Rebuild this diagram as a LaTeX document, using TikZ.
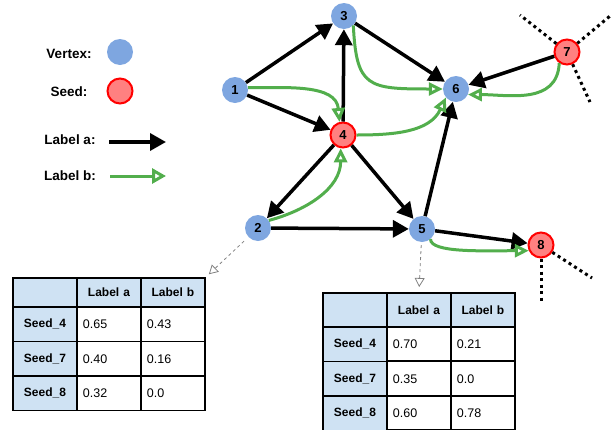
\documentclass[tikz,border=0pt]{standalone}
\usepackage{fontspec}
\setmainfont{Liberation Sans}
\usepackage{tikz}
\usetikzlibrary{positioning}
\usetikzlibrary{arrows.meta}
\usetikzlibrary{matrix}

\definecolor{vblue}{RGB}{126,166,224}
\definecolor{sred}{RGB}{255,128,128}
\definecolor{lgreen}{RGB}{82,174,76}
\definecolor{tblue}{RGB}{207,226,243}

\begin{document}
\begin{tikzpicture}[x = 1pt, y = 1pt]

  \tikzstyle{vertex}=[circle, minimum size = 26pt, inner sep = 0pt, fill = vblue, font = \fontsize{13}{13}\selectfont\bfseries]
  \tikzstyle{seed}=[vertex, minimum size = 25pt, fill = sred, draw = red, line width = 2pt]
  \tikzstyle{labela}=[-{Triangle[length = 16pt, width = 17pt]}, line width = 3.5pt, draw = black]
  \tikzstyle{labelb}=[-{Triangle[open, length = 14pt, width = 13pt]}, line width = 3pt, draw = lgreen]
  \tikzstyle{dangling}=[line width = 3pt, dash pattern = on 3pt off 3.5pt]
  \tikzstyle{lookup}=[-{Triangle[open, length = 9pt, width = 10pt]}, dashed, draw = gray, line width = 0.8pt]
  \tikzstyle{legtext}=[font = \fontsize{13.5}{13.5}\selectfont\bfseries]
  \tikzstyle{tcell}=[draw, anchor = center, line width = 1.5pt, inner xsep = 6pt, text width = 52pt, minimum height = 34.5pt, font = \fontsize{12.5}{12.5}\selectfont]
  \tikzstyle{thcell}=[tcell, fill = tblue, align = center, font = \fontsize{12}{12}\selectfont\bfseries]

  \useasboundingbox (0,0) rectangle (611,-429);

  % legend
  \node[legtext] (tvertex) at (69,-54) {Vertex:};
  \node[vertex] (lvertex) at (120,-52) {};
  \node[legtext] (tseed) at (69,-92) {Seed:};
  \node[seed] (lseed) at (120,-91) {};
  \node[legtext] (tlabela) at (70,-140) {Label a:};
  \node[legtext] (tlabelb) at (70,-176) {Label b:};
  \coordinate (la0) at (109,-142);
  \coordinate (la1) at (166,-142);
  \coordinate (lb0) at (110,-176);
  \coordinate (lb1) at (166,-176);
  \draw[labela] (la0) -- (la1);
  \draw[labelb, -{Triangle[open, length = 14pt, width = 15pt]}] (lb0) -- (lb1);

  % graph
  \node[vertex] (n1) at (235,-90) {1};
  \node[vertex] (n3) at (344,-16) {3};
  \node[seed] (n4) at (343,-135) {4};
  \node[vertex] (n6) at (456,-89) {6};
  \node[seed] (n7) at (567,-52) {7};
  \node[vertex] (n2) at (258,-228) {2};
  \node[vertex] (n5) at (422,-229) {5};
  \node[seed] (n8) at (541,-245) {8};

  \coordinate (d7a) at (520,-15);
  \coordinate (d7b) at (610,-16);
  \coordinate (d7c) at (590,-102);
  \coordinate (d8a) at (592,-278);
  \coordinate (d8b) at (541,-302);

  \path (n1) edge [labela] (n3)
        (n1) edge [labela] (n4)
        (n4) edge [labela] (n3)
        (n3) edge [labela] (n6)
        (n4) edge [labela] (n2)
        (n4) edge [labela] (n5)
        (n2) edge [labela] (n5)
        (n5) edge [labela] (n6)
        (n7) edge [labela] (n6)
        (n5) edge [labela] (n8);

  \path (n1.10) edge [labelb, out = 0, in = 95] (n4.105)
        (n4.east) edge [labelb, out = 0, in = 245] (n6.220)
        (n2.35) edge [labelb, out = 15, in = -90] (n4.-100);
  \draw[labelb] (n3.-45) .. controls +(3,-62) and +(-75,0) .. (n6.180);
  \draw[labelb] (n7.235) .. controls +(-2,-42) and +(40,0) .. (n6.-25);
  \draw[labelb] (n5.-50) .. controls +(0,-14) and +(-45,0) .. (n8.205);

  \path (n7) edge [dangling] (d7a)
        (n7) edge [dangling] (d7b)
        (n7) edge [dangling] (d7c)
        (n8) edge [dangling] (d8a)
        (n8) edge [dangling] (d8b);

  % tables
  \matrix (taba) [matrix of nodes, nodes in empty cells, anchor = north west, inner sep = 0pt,
    column sep = -1.5pt, row sep = -1.5pt, nodes = {tcell},
    row 1/.style = {nodes = {thcell, minimum height = 29pt}},
    column 1/.style = {nodes = {thcell}}] at (12,-277) {
            & Label a & Label b \\
    Seed\_4 & 0.65    & 0.43    \\
    Seed\_7 & 0.40    & 0.16    \\
    Seed\_8 & 0.32    & 0.0     \\
  };

  \matrix (tabb) [matrix of nodes, nodes in empty cells, anchor = north west, inner sep = 0pt,
    column sep = -1.5pt, row sep = -1.5pt, nodes = {tcell, minimum height = 34pt},
    row 1/.style = {nodes = {thcell, minimum height = 34pt}},
    column 1/.style = {nodes = {thcell}}] at (322,-292) {
            & Label a & Label b \\
    Seed\_4 & 0.70    & 0.21    \\
    Seed\_7 & 0.35    & 0.0     \\
    Seed\_8 & 0.60    & 0.78    \\
  };

  \draw[lookup, shorten <= 6pt, shorten >= 4pt] (n2) -- (taba.north east);
  \draw[lookup, shorten <= 3pt, shorten >= 5pt] (n5) -- (tabb.north);

\end{tikzpicture}
\end{document}
